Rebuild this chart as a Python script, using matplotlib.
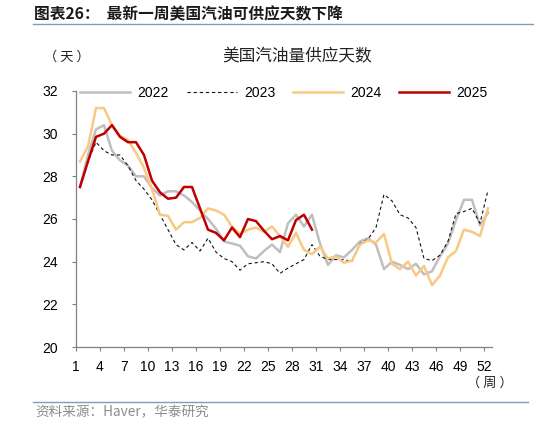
import matplotlib
matplotlib.use('Agg')
import matplotlib.pyplot as plt
import numpy as np

plt.rcParams['font.family'] = ['Liberation Sans', 'Noto Sans CJK SC']

weeks = np.arange(1, 53)
tick_weeks = list(range(1, 53, 3))

y2022 = [27.5, 29.0, 30.2, 30.4, 29.2, 28.75, 28.5, 28.0, 28.0, 27.45,
         27.1, 27.3, 27.3, 27.1, 26.8, 26.4, 26.0, 25.55, 24.95, 24.85,
         24.75, 24.25, 24.15, 24.5, 24.8, 24.45, 25.8, 26.2, 25.65, 26.2,
         24.85, 23.85, 24.3, 24.2, 24.55, 24.95, 25.1, 24.8, 23.65, 24.0,
         23.85, 23.65, 23.9, 23.4, 23.55, 24.25, 24.85, 25.95, 26.9, 26.9,
         25.7, 26.3]
y2023 = [27.5, 28.7, 29.6, 29.2, 29.0, 29.0, 28.5, 27.8, 27.4, 26.9,
         26.2, 25.5, 24.8, 24.55, 24.9, 24.5, 25.1, 24.45, 24.15, 24.0,
         23.6, 23.9, 23.95, 24.0, 23.9, 23.45, 23.7, 23.9, 24.1, 24.8,
         24.25, 24.1, 24.1, 24.1, 24.0, 24.85, 25.05, 25.6, 27.15, 26.85,
         26.2, 26.05, 25.6, 24.15, 24.05, 24.3, 24.95, 26.25, 26.35, 26.5,
         25.8, 27.35]
y2024 = [28.7, 29.4, 31.2, 31.2, 30.4, 29.9, 29.7, 29.1, 28.4, 27.4,
         26.2, 26.15, 25.5, 25.85, 25.85, 26.05, 26.5, 26.4, 26.2, 25.65,
         25.3, 25.5, 25.6, 25.4, 25.65, 25.2, 24.7, 25.35, 24.55, 24.35,
         24.7, 24.15, 24.25, 23.95, 24.05, 24.8, 25.0, 24.9, 25.3, 23.9,
         23.65, 24.0, 23.35, 23.8, 22.9, 23.35, 24.2, 24.5, 25.5, 25.4,
         25.2, 26.5]
y2025 = [27.5, 28.7, 29.85, 30.0, 30.4, 29.85, 29.6, 29.6, 29.0, 27.8,
         27.25, 26.95, 27.0, 27.5, 27.5, 26.5, 25.5, 25.35, 25.0, 25.6,
         25.15, 26.0, 25.9, 25.45, 25.05, 25.2, 25.0, 25.95, 26.2, 25.5]

fig = plt.figure(figsize=(5.34, 4.24), dpi=100)
ax = fig.add_axes([0.1423, 0.1816, 0.7790, 0.6038])

ax.plot(weeks, y2022, color='#BFBFBF', lw=1.8, label='2022')
ax.plot(weeks, y2023, color='#111111', lw=0.8, ls=(0, (3, 2.5)), label='2023')
ax.plot(weeks, y2024, color='#F8C982', lw=1.8, label='2024')
ax.plot(weeks[:len(y2025)], y2025, color='#C00000', lw=1.8, label='2025')

ax.set_xlim(0.5, 52.5)
ax.set_ylim(20, 32)
ax.set_yticks(range(20, 33, 2))
ax.set_xticks([w - 0.5 for w in tick_weeks])
ax.set_xticklabels([str(w) for w in tick_weeks])
ax.tick_params(axis='both', direction='out', length=3, width=0.8,
               color='#808080', labelsize=10, labelcolor='#000000')
ax.tick_params(axis='x', pad=6)
ax.tick_params(axis='y', pad=10)
for s in ['top', 'right']:
    ax.spines[s].set_visible(False)
for s in ['left', 'bottom']:
    ax.spines[s].set_color('#808080')
    ax.spines[s].set_linewidth(0.9)

leg = ax.legend(loc='upper center', bbox_to_anchor=(0.5, 1.07), ncol=4,
                frameon=False, fontsize=10, handlelength=3.6,
                columnspacing=1.3, handletextpad=0.5)

cjk = ['Noto Sans CJK SC', 'DejaVu Sans']
fig.text(0.5562, 0.866, '美国汽油量供应天数', family=cjk, fontsize=12,
         ha='center', va='center', color='#222222')
fig.text(0.125, 0.866, '（ 天 ）', family=cjk, fontsize=9.5, ha='center',
         va='center', color='#222222')
fig.text(0.918, 0.097, '（ 周 ）', family=cjk, fontsize=9.5, ha='center',
         va='center', color='#222222')

fig.text(0.064, 0.967, '图表26：  最新一周美国汽油可供应天数下降',
         family=cjk, fontsize=11.3, fontweight='bold', ha='left', va='center',
         color='#1a1a1a')
fig.add_artist(plt.Line2D([0.062, 1.0], [0.943, 0.943], color='#7F9CBF',
                          lw=1.0, transform=fig.transFigure))
fig.add_artist(plt.Line2D([0.062, 0.988], [0.053, 0.053], color='#7F9CBF',
                          lw=1.0, transform=fig.transFigure))
fig.text(0.066, 0.028, '资料来源：Haver，华泰研究', family=cjk,
         fontsize=9.8, ha='left', va='center', color='#8c8c8c')

fig.savefig('out.png', dpi=100)
